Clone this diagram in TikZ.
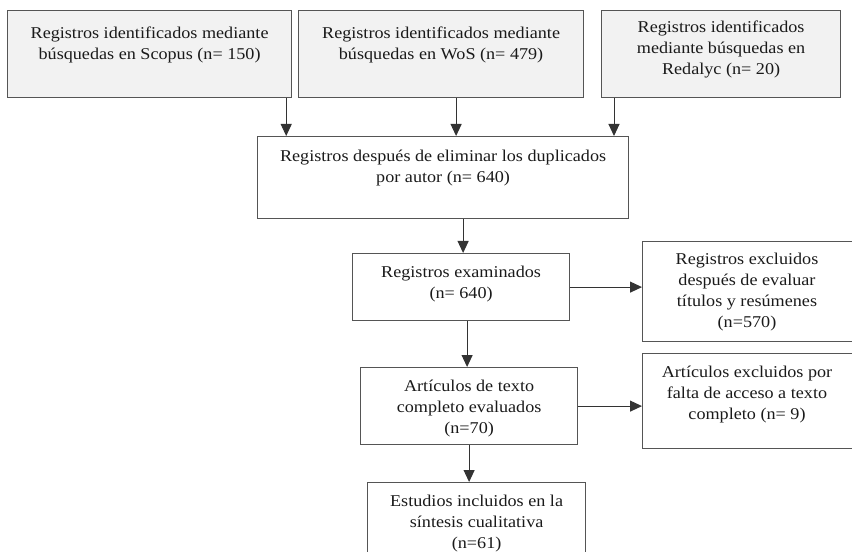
\documentclass[tikz,border=0pt]{standalone}
\usepackage{fontspec}
\setmainfont[FakeStretch=1.1]{Liberation Serif}
\usetikzlibrary{arrows.meta,calc}
\definecolor{boxline}{HTML}{555555}
\definecolor{boxgray}{HTML}{F2F2F2}
\definecolor{txtcol}{HTML}{1A1A1A}
\tikzset{
  box/.style={draw=boxline, line width=1.2bp, anchor=north west, inner sep=0pt},
  graybox/.style={box, fill=boxgray},
  lbl/.style={align=center, anchor=north, inner sep=0pt, text=txtcol,
    font=\fontsize{16.5bp}{21bp}\selectfont},
  arr/.style={draw=black!80, line width=1bp, -{Triangle[width=11bp,length=12bp]}}
}
\begin{document}
\begin{tikzpicture}[x=1bp,y=-1bp]
\useasboundingbox (0,0) rectangle (852,552);
\clip (0,0) rectangle (852,552);
% boxes
\node[graybox, minimum width=284bp, minimum height=87bp] (b1) at (7,10) {};
\node[graybox, minimum width=285bp, minimum height=87bp] (b2) at (298,10) {};
\node[graybox, minimum width=239bp, minimum height=87bp] (b3) at (601,10) {};
\node[box, minimum width=371bp, minimum height=82bp] (b4) at (257,136) {};
\node[box, minimum width=217bp, minimum height=67bp] (b5) at (352,253) {};
\node[box, minimum width=220bp, minimum height=100bp] (b6) at (642,241) {};
\node[box, minimum width=217bp, minimum height=77bp] (b7) at (360,367) {};
\node[box, minimum width=220bp, minimum height=95bp] (b8) at (642,353) {};
\node[box, minimum width=218bp, minimum height=90bp] (b9) at (367,482) {};
% labels
\node[lbl] (t1) at ($(b1.north)+(0,17)$) {Registros identificados mediante\\búsquedas en Scopus (n= 150)};
\node[lbl] (t2) at ($(b2.north)+(0,17)$) {Registros identificados mediante\\búsquedas en WoS (n= 479)};
\node[lbl] (t3) at ($(b3.north)+(0,11)$) {Registros identificados\\mediante búsquedas en\\Redalyc (n= 20)};
\node[lbl] (t4) at ($(b4.north)+(0,14)$) {Registros después de eliminar los duplicados\\por autor (n= 640)};
\node[lbl] (t5) at ($(b5.north)+(0,13)$) {Registros examinados\\(n= 640)};
\node[lbl] (t6) at ($(b6.north west)+(105,12)$) {Registros excluidos\\después de evaluar\\títulos y resúmenes\\(n=570)};
\node[lbl] (t7) at ($(b7.north)+(0,13)$) {Artículos de texto\\completo evaluados\\(n=70)};
\node[lbl] (t8) at ($(b8.north west)+(105,13)$) {Artículos excluidos por\\falta de acceso a texto\\completo (n= 9)};
\node[lbl] (t9) at ($(b9.north)+(0,13)$) {Estudios incluidos en la\\síntesis cualitativa\\(n=61)};
% connectors
\draw[arr] ([xshift=-6bp]b1.south east) -- ([xshift=-6bp]b1.south east |- b4.north);
\draw[arr] ([xshift=15bp]b2.south) -- ([xshift=15bp]b2.south |- b4.north);
\draw[arr] ([xshift=13bp]b3.south west) -- ([xshift=13bp]b3.south west |- b4.north);
\draw[arr] ([xshift=2bp]b5.north |- b4.south) -- ([xshift=2bp]b5.north);
\draw[arr] (b5.east) -- (b5.east -| b6.west);
\draw[arr] ([xshift=-2bp]b7.north |- b5.south) -- ([xshift=-2bp]b7.north);
\draw[arr] (b7.east) -- (b7.east -| b8.west);
\draw[arr] (b7.south) -- (b7.south |- b9.north);
\end{tikzpicture}
\end{document}
